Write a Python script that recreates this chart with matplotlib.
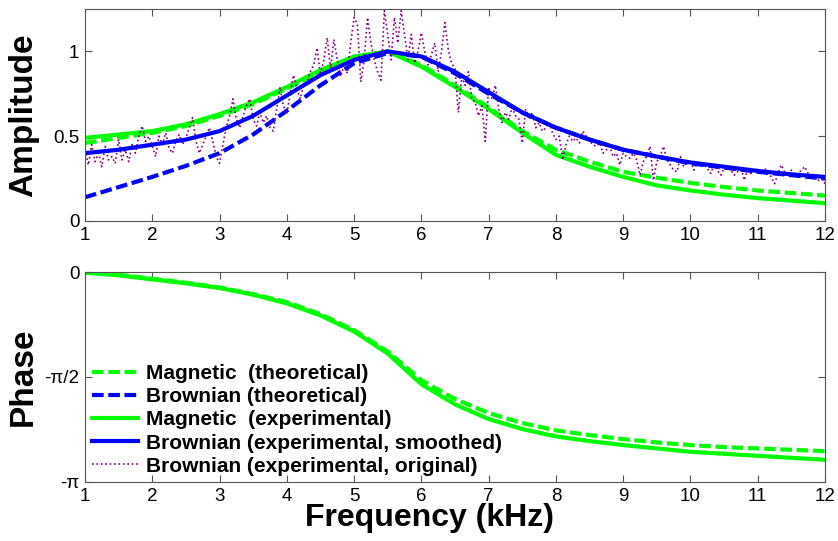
import numpy as np
import matplotlib
matplotlib.use('Agg')
import matplotlib.pyplot as plt

plt.rcParams['font.family'] = ['Liberation Sans', 'DejaVu Sans']

# --- data ---
freq = [1.0, 1.5, 2.0, 2.5, 3.0, 3.5, 4.0, 4.5, 5.0, 5.5, 6.0, 6.5,
        7.0, 7.5, 8.0, 8.5, 9.0, 9.5, 10.0, 10.5, 11.0, 11.5, 12.0]

amp_mag_theo = [0.46, 0.49, 0.52, 0.56, 0.62, 0.69, 0.78, 0.88, 0.96, 1.00, 0.92, 0.80,
                0.67, 0.53, 0.42, 0.35, 0.29, 0.255, 0.225, 0.20, 0.18, 0.165, 0.15]
amp_brown_theo = [0.14, 0.20, 0.26, 0.325, 0.40, 0.51, 0.65, 0.80, 0.93, 0.99, 0.97, 0.87,
                  0.75, 0.64, 0.55, 0.48, 0.42, 0.38, 0.34, 0.315, 0.29, 0.27, 0.25]
amp_mag_exp = [0.49, 0.51, 0.53, 0.57, 0.63, 0.70, 0.79, 0.89, 0.97, 1.00, 0.91, 0.79,
               0.66, 0.52, 0.39, 0.32, 0.26, 0.21, 0.18, 0.155, 0.135, 0.12, 0.105]
amp_brown_smooth = [0.40, 0.42, 0.45, 0.48, 0.53, 0.62, 0.74, 0.86, 0.95, 1.00, 0.97, 0.88,
                    0.76, 0.64, 0.55, 0.48, 0.42, 0.38, 0.345, 0.32, 0.295, 0.275, 0.26]

# raw (noisy) Brownian amplitude, sampled every 0.05 kHz from 1 to 12
freq_raw = np.linspace(1, 12, 221)
amp_brown_raw = [
    0.42, 0.33, 0.45, 0.35, 0.40, 0.32, 0.44, 0.36, 0.38, 0.34, 0.48, 0.36, 0.42, 0.35, 0.45, 0.40, 0.50, 0.56, 0.47, 0.50,
    0.44, 0.38, 0.50, 0.45, 0.52, 0.43, 0.40, 0.47, 0.51, 0.45, 0.49, 0.55, 0.61, 0.47, 0.40, 0.45, 0.50, 0.55, 0.47, 0.38,
    0.34, 0.45, 0.55, 0.62, 0.72, 0.60, 0.55, 0.62, 0.68, 0.72, 0.60, 0.56, 0.64, 0.58, 0.62, 0.55, 0.53, 0.66, 0.79, 0.68,
    0.63, 0.75, 0.86, 0.78, 0.72, 0.80, 0.82, 0.88, 0.92, 1.02, 0.86, 0.95, 1.08, 0.90, 1.07, 0.95, 0.85, 0.92, 0.87, 1.05,
    1.20, 1.16, 0.82, 0.95, 1.20, 1.05, 0.95, 0.88, 0.83, 1.24, 1.10, 0.95, 1.20, 1.05, 1.24, 1.10, 0.95, 1.10, 0.93, 1.00,
    1.11, 1.00, 0.92, 0.98, 1.05, 0.88, 1.00, 1.17, 1.01, 0.93, 0.90, 0.64, 0.85, 0.80, 0.88, 0.72, 0.70, 0.62, 0.68, 0.47,
    0.79, 0.72, 0.80, 0.66, 0.58, 0.64, 0.60, 0.67, 0.62, 0.60, 0.46, 0.66, 0.60, 0.64, 0.55, 0.58, 0.53, 0.55, 0.58, 0.52,
    0.48, 0.50, 0.36, 0.45, 0.50, 0.47, 0.49, 0.46, 0.53, 0.50, 0.47, 0.45, 0.44, 0.46, 0.40, 0.42, 0.44, 0.38, 0.40, 0.33,
    0.40, 0.38, 0.37, 0.40, 0.36, 0.27, 0.35, 0.38, 0.44, 0.24, 0.35, 0.38, 0.44, 0.36, 0.33, 0.30, 0.29, 0.38, 0.32, 0.35,
    0.36, 0.30, 0.34, 0.35, 0.33, 0.31, 0.28, 0.33, 0.30, 0.27, 0.31, 0.32, 0.30, 0.27, 0.29, 0.32, 0.24, 0.30, 0.28, 0.31,
    0.30, 0.28, 0.31, 0.29, 0.26, 0.22, 0.28, 0.33, 0.29, 0.28, 0.30, 0.27, 0.28, 0.30, 0.32, 0.28, 0.27, 0.26, 0.24, 0.25, 0.22,
]

phase_mag_theo = [0.0, -0.04, -0.10, -0.16, -0.23, -0.33, -0.45, -0.63, -0.87, -1.19, -1.62, -1.90,
                  -2.11, -2.26, -2.37, -2.44, -2.50, -2.55, -2.59, -2.62, -2.64, -2.66, -2.68]
phase_mag_exp = [-0.01, -0.05, -0.11, -0.17, -0.24, -0.34, -0.47, -0.65, -0.89, -1.22, -1.68, -1.98,
                 -2.20, -2.35, -2.46, -2.53, -2.59, -2.64, -2.69, -2.72, -2.75, -2.78, -2.81]

labels = ['Magnetic  (theoretical)', 'Brownian (theoretical)', 'Magnetic  (experimental)',
          'Brownian (experimental, smoothed)', 'Brownian (experimental, original)']

GREEN = '#00ff00'
BLUE = '#0000ff'
PURPLE = '#800080'
DASH = (0, (2.8, 1.1))

fig = plt.figure(figsize=(8.38, 5.41), dpi=100)
ax1 = fig.add_axes([0.1014, 0.5915, 0.8831, 0.3919])
ax2 = fig.add_axes([0.1014, 0.1091, 0.8831, 0.3881])

# --- amplitude ---
h_mt, = ax1.plot(freq, amp_mag_theo, color=GREEN, lw=3, linestyle=DASH)
h_bt, = ax1.plot(freq, amp_brown_theo, color=BLUE, lw=3, linestyle=DASH)
h_me, = ax1.plot(freq, amp_mag_exp, color=GREEN, lw=3)
h_raw, = ax1.plot(freq_raw, amp_brown_raw, color=PURPLE, lw=1.2, linestyle=':')
h_bs, = ax1.plot(freq, amp_brown_smooth, color=BLUE, lw=3)
ax1.set_xlim(1, 12)
ax1.set_ylim(0, 1.25)
ax1.set_yticks([0, 0.5, 1])
ax1.set_yticklabels(['0', '0.5', '1'])
ax1.set_ylabel('Amplitude', fontsize=24, fontweight='bold')
ax1.yaxis.set_label_coords(-0.062, 0.5)

# --- phase ---
ax2.plot(freq, phase_mag_theo, color=GREEN, lw=3, linestyle=DASH)
ax2.plot(freq, phase_mag_exp, color=GREEN, lw=3)
ax2.set_xlim(1, 12)
ax2.set_ylim(-np.pi, 0)
ax2.set_yticks([-np.pi, -np.pi / 2, 0])
ax2.set_yticklabels(['-π', '-π/2', '0'])
ax2.set_ylabel('Phase', fontsize=24, fontweight='bold')
ax2.yaxis.set_label_coords(-0.062, 0.5)
ax2.set_xlabel('Frequency (kHz)', fontsize=23, fontweight='bold')
ax2.xaxis.set_label_coords(0.466, -0.1)

for ax in (ax1, ax2):
    ax.set_xticks(range(1, 13))
    ax.tick_params(direction='in', top=True, right=True, labelsize=13.5, length=5,
                   color='#555555', pad=4)
    for s in ax.spines.values():
        s.set_color('#555555')

ax2.legend([h_mt, h_bt, h_me, h_bs, h_raw], labels, loc='lower left', frameon=False,
           prop={'size': 15, 'weight': 'bold'}, handlelength=2.2, handletextpad=0.4,
           labelspacing=0.2, borderaxespad=0.0, bbox_to_anchor=(-0.002, -0.01))

fig.savefig('out.png', dpi=100)
